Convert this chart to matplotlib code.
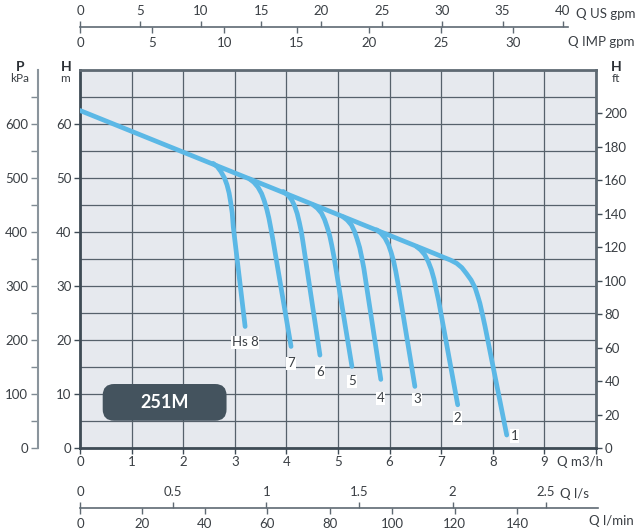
import numpy as np
import matplotlib.pyplot as plt
from matplotlib.patches import FancyBboxPatch
from matplotlib.ticker import MultipleLocator

plt.rcParams['font.family'] = ['Lato', 'DejaVu Sans']

# --- data: Q in m3/h, H in m ---
main_q = [0.0, 6.90, 7.05, 7.18, 7.30, 7.40, 7.49, 7.58, 7.66, 7.71, 7.75, 7.80, 7.85, 8.27]
main_h = [62.5, 35.9, 35.3, 34.8, 34.2, 33.4, 32.3, 31.1, 29.6, 28.1, 26.8, 24.7, 22.5, 2.4]

q8 = [2.58, 2.66, 2.73, 2.80, 2.85, 2.89, 2.92, 2.95, 2.97, 3.20]
h8 = [52.7, 52.1, 51.2, 50.0, 48.7, 47.2, 45.5, 43.5, 41.0, 22.5]
q7 = [3.29, 3.37, 3.45, 3.52, 3.57, 3.62, 3.66, 3.70, 3.74, 4.09]
h7 = [49.8, 49.2, 48.3, 47.1, 45.8, 44.2, 42.6, 40.6, 38.5, 18.8]
q6 = [3.94, 4.02, 4.10, 4.16, 4.21, 4.25, 4.29, 4.32, 4.65]
h6 = [47.5, 46.9, 46.0, 44.8, 43.4, 41.8, 40.0, 38.2, 17.2]
q5 = [4.52, 4.60, 4.68, 4.74, 4.79, 4.84, 4.88, 4.92, 5.27]
h5 = [45.0, 44.4, 43.5, 42.3, 40.9, 39.3, 37.5, 35.5, 15.1]
q4 = [5.10, 5.18, 5.26, 5.32, 5.37, 5.42, 5.46, 5.50, 5.83]
h4 = [42.8, 42.2, 41.3, 40.1, 38.7, 37.1, 35.3, 33.3, 12.7]
q3 = [5.75, 5.83, 5.91, 5.98, 6.03, 6.08, 6.12, 6.16, 6.49]
h3 = [40.4, 39.8, 38.9, 37.6, 36.2, 34.5, 32.7, 30.6, 11.4]
q2 = [6.52, 6.60, 6.68, 6.75, 6.81, 6.86, 6.90, 6.95, 7.32]
h2 = [37.3, 36.7, 35.8, 34.5, 33.0, 31.3, 29.5, 27.3, 8.0]

curve_names = ['Hs 8', '7', '6', '5', '4', '3', '2', '1']

x_ticks = list(range(0, 10))
h_ticks = list(range(0, 61, 10))
kpa_ticks = list(range(0, 601, 100))
ft_ticks = list(range(0, 201, 20))
usgpm_ticks = list(range(0, 41, 5))
impgpm_ticks = list(range(0, 31, 5))
ls_ticks = [0, 0.5, 1, 1.5, 2, 2.5]
lmin_ticks = list(range(0, 141, 20))

# scale factors as drawn on the sheet
M_PER_FT = 0.31
KPA_PER_M = 10.0
M3H_PER_USGPM = 0.234
M3H_PER_IMPGPM = 0.28
M3H_PER_LS = 3.61
M3H_PER_LMIN = 0.0605

BLUE = '#5bb8e6'
DARK = '#3e4b55'
GRID = '#56616b'
TXT = '#3a3f44'
FS = 9.5

W, H = 640, 532
fig = plt.figure(figsize=(W / 100, H / 100), dpi=100)


def fx(px):
    return px / W


def fy(py):
    return 1 - py / H


ax = fig.add_axes([fx(80), fy(448), fx(596) - fx(80), fy(70) - fy(448)])
ax.set_xlim(0, 10)
ax.set_ylim(0, 70)
ax.set_facecolor('#e6e9ee')
ax.set_xticks(range(0, 11))
ax.set_xticklabels([str(v) for v in x_ticks] + [''])
ax.set_yticks(h_ticks)
ax.yaxis.set_minor_locator(MultipleLocator(5))
ax.grid(True, which='both', color=GRID, lw=0.9)
ax.set_axisbelow(True)
ax.tick_params(which='major', direction='out', length=4, width=1, color=DARK,
               labelsize=FS, labelcolor=TXT, pad=2)
ax.tick_params(which='minor', length=0)
for s in ax.spines.values():
    s.set_color(DARK)
    s.set_linewidth(2)
ax.spines['top'].set_color('#5f6a73')
ax.spines['right'].set_color('#5f6a73')

# curves
ax.plot(main_q, main_h, color=BLUE, lw=3.4, solid_capstyle='round', solid_joinstyle='round', zorder=3)
branches = [(q8, h8), (q7, h7), (q6, h6), (q5, h5), (q4, h4), (q3, h3), (q2, h2)]
for q, h in branches:
    ax.plot(q, h, color=BLUE, lw=3.4, solid_capstyle='round', solid_joinstyle='round', zorder=3)

ends = [(q8[-1], h8[-1]), (q7[-1], h7[-1]), (q6[-1], h6[-1]), (q5[-1], h5[-1]),
        (q4[-1], h4[-1]), (q3[-1], h3[-1]), (q2[-1], h2[-1]), (main_q[-1], main_h[-1])]
offsets = [(0, -16), (0, -17), (0, -17), (0, -15), (0, -19), (2, -13), (0, -13), (8, -1)]
for name, (q, h), off in zip(curve_names, ends, offsets):
    ax.annotate(name, (q, h), xytext=off, textcoords='offset pixels',
                ha='center', va='center', fontsize=FS, color=TXT, zorder=4,
                bbox=dict(facecolor='white', edgecolor='none', pad=0.6))

# model badge
px_x = ax.bbox.width / 10
px_y = ax.bbox.height / 70
badge = FancyBboxPatch((0.44, 5.05), 2.40, 6.8,
                       boxstyle='round,pad=0,rounding_size=0.22',
                       mutation_aspect=px_x / px_y,
                       facecolor='#44535e', edgecolor='none', zorder=5)
ax.add_patch(badge)
ax.text(1.64, 8.45, '251M', ha='center', va='center', color='white',
        fontsize=13, fontweight='bold', zorder=6)

# right: H ft
ax_ft = ax.secondary_yaxis('right', functions=(lambda m: m / M_PER_FT, lambda f: f * M_PER_FT))
ax_ft.set_yticks(ft_ticks)
ax_ft.tick_params(direction='out', length=4, width=1, color=DARK, labelsize=FS, labelcolor=TXT, pad=2)
ax_ft.spines['right'].set_visible(False)

# left: P kPa
ax_p = ax.secondary_yaxis(-42 / 516, functions=(lambda m: m * KPA_PER_M, lambda p: p / KPA_PER_M))
ax_p.set_yticks(kpa_ticks)
ax_p.set_yticks(list(range(50, 651, 100)), minor=True)
ax_p.tick_params(which='both', direction='out', length=5, width=1, color='#7f8a93',
                 labelsize=FS, labelcolor=TXT, pad=2)
ax_p.spines['left'].set_color('#8a949c')
ax_p.spines['left'].set_linewidth(1.5)

# top flow scales
qmax_top = (568 - 80) / 516 * 10
ax_t = fig.add_axes([fx(80), fy(27), fx(568) - fx(80), 0.0005])
ax_t.set_xlim(0, qmax_top)
ax_t.set_yticks([])
ax_t.set_xticks([])
ax_t.patch.set_visible(False)
for k in ['top', 'left', 'right']:
    ax_t.spines[k].set_visible(False)
ax_t.spines['bottom'].set_color('#5f6a73')
ax_t.spines['bottom'].set_linewidth(1.2)
ax_us = ax_t.secondary_xaxis('top', functions=(lambda q: q / M3H_PER_USGPM, lambda g: g * M3H_PER_USGPM))
ax_us.set_xticks(usgpm_ticks)
ax_imp = ax_t.secondary_xaxis('bottom', functions=(lambda q: q / M3H_PER_IMPGPM, lambda g: g * M3H_PER_IMPGPM))
ax_imp.set_xticks(impgpm_ticks)
for a in (ax_us, ax_imp):
    a.tick_params(direction='out', length=4, width=1, color='#5f6a73', labelsize=FS, labelcolor=TXT, pad=3)
    for s in a.spines.values():
        s.set_visible(False)

# bottom flow scales
qmax_bot = (598 - 80) / 516 * 10
ax_b = fig.add_axes([fx(80), fy(508), fx(598) - fx(80), 0.0005])
ax_b.set_xlim(0, qmax_bot)
ax_b.set_yticks([])
ax_b.set_xticks([])
ax_b.patch.set_visible(False)
for k in ['top', 'left', 'right']:
    ax_b.spines[k].set_visible(False)
ax_b.spines['bottom'].set_color('#5f6a73')
ax_b.spines['bottom'].set_linewidth(1.2)
ax_ls = ax_b.secondary_xaxis('top', functions=(lambda q: q / M3H_PER_LS, lambda v: v * M3H_PER_LS))
ax_ls.set_xticks(ls_ticks)
ax_ls.set_xticklabels(['0', '0.5', '1', '1.5', '2', '2.5'])
ax_lm = ax_b.secondary_xaxis('bottom', functions=(lambda q: q / M3H_PER_LMIN, lambda v: v * M3H_PER_LMIN))
ax_lm.set_xticks(lmin_ticks)
for a in (ax_ls, ax_lm):
    a.tick_params(direction='out', length=4, width=1, color='#5f6a73', labelsize=FS, labelcolor=TXT, pad=3)
    for s in a.spines.values():
        s.set_visible(False)

# unit labels
fig.text(fx(576), fy(14), 'Q US gpm', ha='left', va='center', fontsize=FS, color=TXT)
fig.text(fx(634), fy(42), 'Q IMP gpm', ha='right', va='center', fontsize=FS, color=TXT)
fig.text(fx(557), fy(462), 'Q m3/h', ha='left', va='center', fontsize=FS, color=TXT)
fig.text(fx(560), fy(494), 'Q l/s', ha='left', va='center', fontsize=FS, color=TXT)
fig.text(fx(634), fy(521), 'Q l/min', ha='right', va='center', fontsize=FS, color=TXT)

fig.text(fx(20), fy(67), 'P', ha='center', va='center', fontsize=FS + 0.5, fontweight='bold', color='#2b3035')
fig.text(fx(20), fy(79), 'kPa', ha='center', va='center', fontsize=FS - 1, color=TXT)
fig.text(fx(66), fy(67), 'H', ha='center', va='center', fontsize=FS + 0.5, fontweight='bold', color='#2b3035')
fig.text(fx(65), fy(79), 'm', ha='center', va='center', fontsize=FS - 1, color=TXT)
fig.text(fx(616), fy(67), 'H', ha='center', va='center', fontsize=FS + 0.5, fontweight='bold', color='#2b3035')
fig.text(fx(616), fy(79), 'ft', ha='center', va='center', fontsize=FS - 1, color=TXT)

fig.savefig('out.png', dpi=100, facecolor='white')
